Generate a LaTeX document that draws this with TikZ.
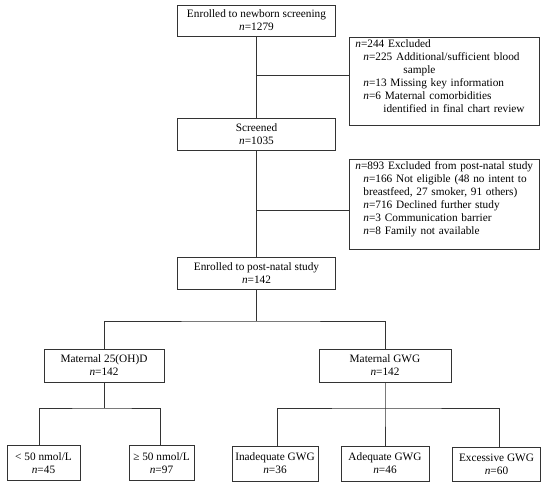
\documentclass[tikz,border=0pt]{standalone}
\usepackage{fontspec}
\setmainfont{Liberation Serif}
\newcommand\nn{\textit{n}}
\begin{document}
\begin{tikzpicture}[x=1pt,y=-1pt,
  box/.style={draw=black!80, line width=0.8pt, align=center, inner sep=0pt, font=\fontsize{11.3}{13}\selectfont},
  exbox/.style={draw=black!80, line width=0.8pt, align=left, anchor=north west, inner xsep=6pt, inner ysep=0pt, text width=178pt, minimum width=190pt, font=\fontsize{11.3}{13}\selectfont},
  conn/.style={draw=black!80, line width=0.8pt}]
\useasboundingbox (0,0) rectangle (550,489);

\node[box, minimum width=158pt, minimum height=31pt] (b1) at (256.5,20.5) {Enrolled to newborn screening\\\nn=1279};
\node[box, minimum width=158pt, minimum height=32pt] (b2) at (256.5,134) {Screened\\\nn=1035};
\node[box, minimum width=158pt, minimum height=32pt] (b3) at (256.5,273) {Enrolled to post-natal study\\\nn=142};

\node[exbox, minimum height=88pt] (ex1) at (349,37) {\nn=244 Excluded\\
\hspace*{8pt}\nn=225 Additional/sufficient blood\\
\hspace*{48pt}sample\\
\hspace*{8pt}\nn=13 Missing key information\\
\hspace*{8pt}\nn=6 Maternal comorbidities\\
\hspace*{28pt}identified in final chart review\rule[-10pt]{0pt}{0pt}};

\node[exbox, minimum height=90pt] (ex2) at (349,159) {\nn=893 Excluded from post-natal study\\
\hspace*{8pt}\nn=166 Not eligible (48 no intent to\\
\hspace*{8pt}breastfeed, 27 smoker, 91 others)\\
\hspace*{8pt}\nn=716 Declined further study\\
\hspace*{8pt}\nn=3 Communication barrier\\
\hspace*{8pt}\nn=8 Family not available\rule[-12pt]{0pt}{0pt}};

\node[box, minimum width=120pt, minimum height=33pt] (m1) at (104,365.5) {Maternal 25(OH)D\\\nn=142};
\node[box, minimum width=132pt, minimum height=33pt] (m2) at (385,365.5) {Maternal GWG\\\nn=142};

\node[box, minimum width=73pt, minimum height=35pt] (L1) at (43.5,463) {< 50 nmol/L\\\nn=45};
\node[box, minimum width=65pt, minimum height=35pt] (L2) at (161.5,463) {≥ 50 nmol/L\\\nn=97};
\node[box, minimum width=86pt, minimum height=35pt] (R1) at (275,463.5) {Inadequate GWG\\\nn=36};
\node[box, minimum width=88pt, minimum height=35pt] (R2) at (385,463.5) {Adequate GWG\\\nn=46};
\node[box, minimum width=88pt, minimum height=34pt] (R3) at (496.5,464) {Excessive GWG\\\nn=60};

\coordinate (j1) at (256.5,75);
\coordinate (j2) at (256.5,210);
\coordinate (j3) at (256.5,321);
\coordinate (j4) at (104,408);
\coordinate (j5) at (385,408);

\draw[conn] (b1.south) -- (b2.north);
\draw[conn] (j1) -- (j1 -| ex1.west);
\draw[conn] (b2.south) -- (b3.north);
\draw[conn] (j2) -- (j2 -| ex2.west);
\draw[conn] (b3.south) -- (j3);
\draw[conn] (m1.north) |- (j3) -| (m2.north);
\draw[conn] (m1.south) -- (j4);
\draw[conn] ([xshift=-4.5pt]L1.north) |- (j4) -| ([xshift=-1.5pt]L2.north);
\draw[conn] (m2.south) -- (j5) -- (R2.north);
\draw[conn] ([xshift=2pt]R1.north) |- (j5) -| ([xshift=2.5pt]R3.north);
\end{tikzpicture}
\end{document}
